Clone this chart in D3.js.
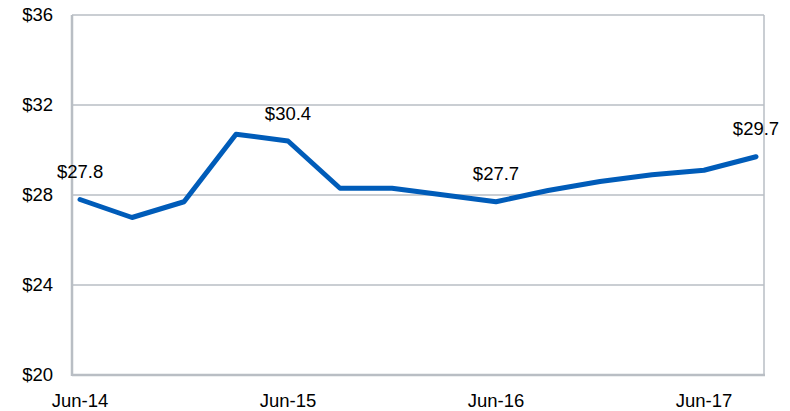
<!DOCTYPE html>
<html>
<head>
<meta charset="utf-8">
<script src="https://cdn.jsdelivr.net/npm/d3@7"></script>
<style>
  body { margin: 0; background: #fff; }
  svg text { font-family: "Liberation Sans", Arial, sans-serif; fill: #000; }
</style>
</head>
<body>
<div id="chart"></div>
<script>
// quarterly values, Jun-14 .. Sep-17
const quarters = ["Jun-14", "Sep-14", "Dec-14", "Mar-15", "Jun-15", "Sep-15", "Dec-15",
                  "Mar-16", "Jun-16", "Sep-16", "Dec-16", "Mar-17", "Jun-17", "Sep-17"];
const values = [27.8, 27.0, 27.7, 30.7, 30.4, 28.3, 28.3, 28.0, 27.7, 28.2, 28.6, 28.9, 29.1, 29.7];
const tickLabels = ["Jun-14", "Jun-15", "Jun-16", "Jun-17"];
const yTicks = [20, 24, 28, 32, 36];
const labelled = ["Jun-14", "Jun-15", "Jun-16", "Sep-17"];

const W = 790, H = 411;
const margin = { top: 15, right: 26, bottom: 36, left: 72 };
const width = W - margin.left - margin.right;
const height = H - margin.top - margin.bottom;
const fontSize = "18.5px";

const svg = d3.select("#chart").append("svg")
    .attr("width", W).attr("height", H)
    .append("g")
    .attr("transform", `translate(${margin.left},${margin.top})`);

const x = d3.scalePoint().domain(quarters).range([0, width]).padding(0.154);
const y = d3.scaleLinear().domain([20, 36]).range([height, 0]);

const gridColor = "#b9bec4";

// gridlines
svg.append("g")
    .selectAll("line")
    .data(yTicks)
    .enter().append("line")
    .attr("x1", 0).attr("x2", width)
    .attr("y1", d => y(d)).attr("y2", d => y(d))
    .attr("stroke", gridColor)
    .attr("stroke-width", 1.5);

// right border
svg.append("line")
    .attr("x1", width).attr("x2", width)
    .attr("y1", 0).attr("y2", height)
    .attr("stroke", gridColor).attr("stroke-width", 1.5);

// left & bottom axis lines
svg.append("line")
    .attr("x1", 0).attr("x2", 0).attr("y1", 0).attr("y2", height + 1)
    .attr("stroke", gridColor).attr("stroke-width", 2.5);
svg.append("line")
    .attr("x1", 0).attr("x2", width + 1).attr("y1", height).attr("y2", height)
    .attr("stroke", gridColor).attr("stroke-width", 2.5);

// y labels
svg.append("g")
    .selectAll("text")
    .data(yTicks)
    .enter().append("text")
    .attr("x", -19)
    .attr("y", d => y(d))
    .attr("dy", "0.35em")
    .attr("text-anchor", "end")
    .style("font-size", fontSize)
    .text(d => "$" + d);

// x labels
svg.append("g")
    .selectAll("text")
    .data(tickLabels)
    .enter().append("text")
    .attr("x", d => x(d))
    .attr("y", height + 32)
    .attr("text-anchor", "middle")
    .style("font-size", fontSize)
    .text(d => d);

const data = quarters.map((q, i) => ({ q, v: values[i] }));

const line = d3.line()
    .x(d => x(d.q))
    .y(d => y(d.v));

svg.append("path")
    .datum(data)
    .attr("fill", "none")
    .attr("stroke", "#005cb9")
    .attr("stroke-width", 5)
    .attr("stroke-linejoin", "round")
    .attr("stroke-linecap", "round")
    .attr("d", line);

// data labels
svg.append("g")
    .selectAll("text")
    .data(data.filter(d => labelled.includes(d.q)))
    .enter().append("text")
    .attr("x", d => x(d.q))
    .attr("y", d => y(d.v) - 21.5)
    .attr("text-anchor", "middle")
    .style("font-size", fontSize)
    .text(d => "$" + d.v.toFixed(1));
</script>
</body>
</html>
